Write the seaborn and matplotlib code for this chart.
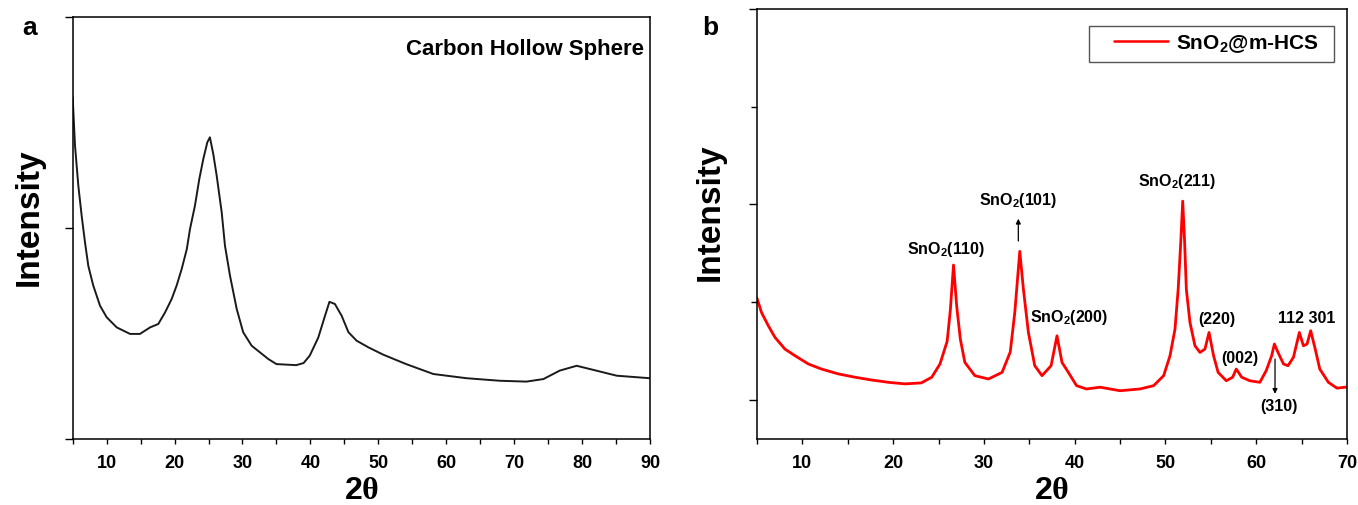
import matplotlib
matplotlib.use("Agg")
import matplotlib.pyplot as plt
from matplotlib.patches import Rectangle
import seaborn as sns
import pandas as pd

# ---------------- data ----------------
# Panel a: Carbon Hollow Sphere XRD
a_two_theta = [5.0, 5.09, 5.34, 5.83, 6.32, 6.81, 7.3, 8.03, 9.02, 10.0, 11.48,
               13.44, 14.9, 16.4, 17.6, 18.6, 19.58, 20.3, 21.05, 21.8, 22.27,
               23.0, 23.64, 24.23, 24.82, 25.2, 25.7, 26.2, 26.94, 27.42, 28.16,
               29.15, 30.1, 31.35, 33.8, 35.0, 37.9, 39.0, 39.9, 41.15, 42.15,
               42.8, 43.6, 44.6, 45.6, 46.8, 48.5, 50.7, 54.1, 58.1, 63.0, 67.9,
               71.8, 74.3, 76.7, 79.2, 81.6, 85.1, 90.0]
a_intensity = [1.62, 1.556, 1.39, 1.20, 1.058, 0.932, 0.82, 0.727, 0.632, 0.577,
               0.529, 0.498, 0.498, 0.529, 0.545, 0.60, 0.664, 0.727, 0.806, 0.90,
               0.995, 1.106, 1.232, 1.327, 1.406, 1.43, 1.35, 1.248, 1.074, 0.916,
               0.774, 0.616, 0.506, 0.442, 0.379, 0.355, 0.35, 0.36, 0.395, 0.48,
               0.584, 0.65, 0.64, 0.584, 0.506, 0.466, 0.435, 0.40, 0.355, 0.308,
               0.288, 0.276, 0.272, 0.284, 0.324, 0.347, 0.328, 0.30, 0.288]

# Panel b: SnO2@m-HCS XRD
b_two_theta = [5.0, 5.5, 6.25, 6.98, 8.08, 9.19, 10.65, 12.1, 13.96, 15.8, 17.6,
               19.47, 21.3, 23.1, 24.25, 25.16, 25.95, 26.3, 26.65, 27.0, 27.4,
               27.9, 29.0, 30.5, 32.0, 32.9, 33.4, 33.95, 34.35, 34.9, 35.6, 36.4,
               37.4, 38.05, 38.6, 39.3, 40.2, 41.3, 42.8, 45.0, 47.2, 48.7, 49.8,
               50.5, 51.05, 51.4, 51.7, 51.9, 52.1, 52.3, 52.7, 53.25, 53.8, 54.35,
               54.8, 55.3, 55.8, 56.7, 57.4, 57.8, 58.4, 59.3, 60.4, 61.1, 61.7,
               62.0, 62.4, 63.0, 63.5, 64.1, 64.75, 65.2, 65.6, 66.0, 66.5, 67.0,
               67.95, 68.9, 69.8, 70.0]
b_intensity = [0.52, 0.447, 0.379, 0.32, 0.26, 0.226, 0.184, 0.158, 0.133, 0.116,
               0.102, 0.09, 0.082, 0.087, 0.116, 0.184, 0.30, 0.46, 0.69, 0.48,
               0.311, 0.192, 0.124, 0.107, 0.141, 0.245, 0.447, 0.76, 0.566, 0.345,
               0.175, 0.124, 0.175, 0.328, 0.192, 0.141, 0.073, 0.056, 0.065, 0.047,
               0.056, 0.073, 0.124, 0.226, 0.362, 0.566, 0.82, 1.017, 0.82, 0.566,
               0.396, 0.277, 0.243, 0.26, 0.345, 0.226, 0.141, 0.098, 0.116, 0.158,
               0.116, 0.098, 0.09, 0.15, 0.226, 0.286, 0.243, 0.184, 0.175, 0.218,
               0.345, 0.277, 0.286, 0.354, 0.26, 0.158, 0.09, 0.06, 0.065, 0.065]

# peak labels for panel b
b_peak_labels = ["SnO$_2$(110)", "SnO$_2$(101)", "SnO$_2$(200)", "SnO$_2$(211)",
                 "(220)", "(002)", "112 301", "(310)"]
b_label_x = [25.82, 33.75, 39.37, 51.27, 55.64, 58.16, 65.59, 62.45]
b_label_y = [0.754, 1.0, 0.403, 1.102, 0.396, 0.192, 0.40, -0.051]

a_ticks_x = [10, 20, 30, 40, 50, 60, 70, 80, 90]
b_ticks_x = [10, 20, 30, 40, 50, 60, 70]

# ---------------- style ----------------
sns.set_theme(style="ticks")
plt.rcParams["font.family"] = ["Liberation Sans", "DejaVu Sans"]
plt.rcParams["font.weight"] = "bold"
for key in ("text.color", "axes.labelcolor", "xtick.color", "ytick.color",
            "axes.edgecolor"):
    plt.rcParams[key] = "black"
plt.rcParams["mathtext.fontset"] = "custom"
plt.rcParams["mathtext.rm"] = "Liberation Serif"
plt.rcParams["mathtext.bf"] = "Liberation Sans:bold"
plt.rcParams["mathtext.it"] = "Liberation Sans:bold:italic"
plt.rcParams["mathtext.default"] = "bf"

fig = plt.figure(figsize=(13.58, 5.06), dpi=100)
W, H = 1358.0, 506.0
ax_a = fig.add_axes([72.7 / W, 1 - 440 / H, (650 - 72.7) / W, (440 - 18) / H])
ax_b = fig.add_axes([757 / W, 1 - 440 / H, (1347 - 757) / W, (440 - 10) / H])

df_a = pd.DataFrame({"two_theta": a_two_theta, "intensity": a_intensity})
df_b = pd.DataFrame({"two_theta": b_two_theta, "intensity": b_intensity})

sns.lineplot(data=df_a, x="two_theta", y="intensity", ax=ax_a, color="#1a1a1a",
             linewidth=1.4, estimator=None, sort=False)
sns.lineplot(data=df_b, x="two_theta", y="intensity", ax=ax_b, color="#ff0000",
             linewidth=2.0, estimator=None, sort=False, label="SnO$_2$@m-HCS")

for ax in (ax_a, ax_b):
    for sp in ax.spines.values():
        sp.set_visible(True)
        sp.set_linewidth(1.1)
        sp.set_color("black")
    ax.tick_params(axis="x", which="both", direction="out", length=3.5, width=1.0,
                   labelsize=13, pad=7, top=False, colors="black")
    ax.tick_params(axis="y", which="major", direction="out", length=6, width=1.0,
                   right=False, colors="black")
    ax.tick_params(axis="y", which="minor", direction="out", length=4, width=1.0,
                   right=False, colors="black")
    ax.set_ylabel("Intensity", fontsize=24, fontweight="bold", color="black")
    ax.set_xlabel(r"2$\mathrm{\theta}$", fontsize=23, fontweight="bold",
                  color="black")

# panel a axes
ax_a.set_xlim(5, 90)
ax_a.set_ylim(0, 2.0)
ax_a.set_xticks(a_ticks_x)
ax_a.set_xticks([5, 15, 25, 35, 45, 55, 65, 75, 85], minor=True)
ax_a.set_xticklabels([str(t) for t in a_ticks_x], fontweight="bold")
ax_a.set_yticks([0, 1, 2])
ax_a.set_yticklabels([])
ax_a.yaxis.set_label_coords(-0.048, 0.528)
ax_a.xaxis.set_label_coords(0.5, -0.085)
ax_a.text(0.9896, 0.912, "Carbon Hollow Sphere", transform=ax_a.transAxes,
          ha="right", va="baseline", fontsize=16, fontweight="bold", color="black")

# panel b axes
ax_b.set_xlim(5, 70)
ax_b.set_ylim(-0.2, 2.0)
ax_b.set_xticks(b_ticks_x)
ax_b.set_xticks([5, 15, 25, 35, 45, 55, 65], minor=True)
ax_b.set_xticklabels([str(t) for t in b_ticks_x], fontweight="bold")
ax_b.set_yticks([0, 1, 2])
ax_b.set_yticks([0.5, 1.5], minor=True)
ax_b.set_yticklabels([])
ax_b.yaxis.set_label_coords(-0.0525, 0.529)
ax_b.xaxis.set_label_coords(0.5, -0.084)

for txt, lx, ly in zip(b_peak_labels, b_label_x, b_label_y):
    ax_b.text(lx, ly, txt, ha="center", va="baseline", fontsize=11.5,
              fontweight="bold", color="black")

arrow_kw = dict(arrowstyle="-|>", color="black", lw=0.9, mutation_scale=7,
                shrinkA=0, shrinkB=0)
ax_b.annotate("", xy=(33.79, 0.927), xytext=(33.79, 0.813), arrowprops=arrow_kw)
ax_b.annotate("", xy=(62.07, 0.031), xytext=(62.07, 0.209), arrowprops=arrow_kw)

# legend with separate frame box
ax_b.add_patch(Rectangle((0.563, 0.876), 0.4145, 0.085, transform=ax_b.transAxes,
                         facecolor="white", edgecolor="#555555", linewidth=1.0,
                         zorder=4))
leg = ax_b.legend(loc="center left", bbox_to_anchor=(0.605, 0.920), frameon=False,
                  borderpad=0, borderaxespad=0, handlelength=2.6,
                  handletextpad=0.4, prop={"size": 15, "weight": "bold"})
leg.set_zorder(5)
for line in leg.get_lines():
    line.set_linewidth(1.8)
for t in leg.get_texts():
    t.set_color("black")

fig.text(22 / W, 1 - 35 / H, "a", fontsize=19, fontweight="bold", va="baseline",
         color="black")
fig.text(702 / W, 1 - 35 / H, "b", fontsize=19, fontweight="bold", va="baseline",
         color="black")

fig.savefig("out.png", dpi=100)
